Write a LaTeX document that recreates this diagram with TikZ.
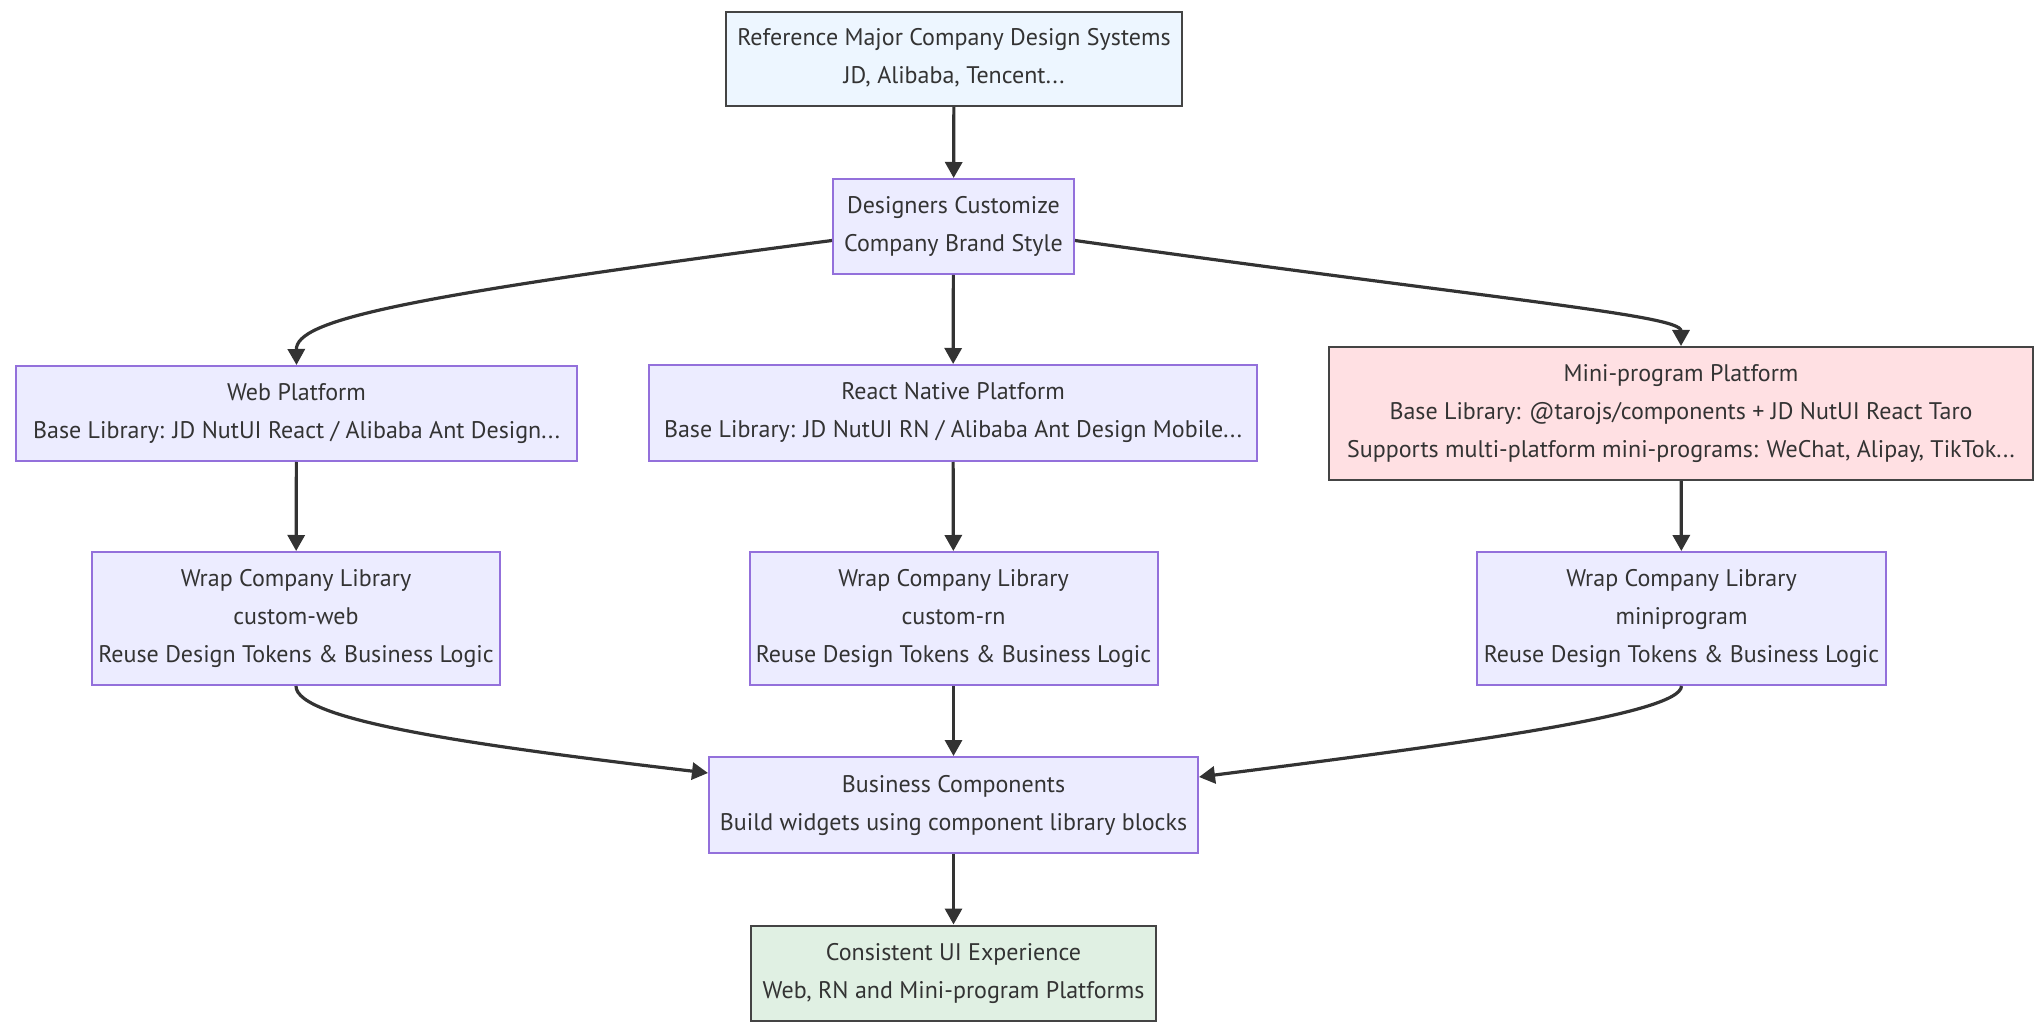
\documentclass[tikz,border=0pt]{standalone}
\usepackage{fontspec}
\setmainfont{PT Sans}
\usetikzlibrary{arrows.meta,calc}
\definecolor{txt}{HTML}{333333}
\definecolor{purp}{HTML}{9370DB}
\definecolor{lav}{HTML}{ECECFF}
\definecolor{topfill}{HTML}{EDF6FF}
\definecolor{pinkfill}{HTML}{FFE0E3}
\definecolor{greenfill}{HTML}{E0F0E3}
\definecolor{darkstroke}{HTML}{444444}
\begin{document}
\begin{tikzpicture}[x=0.5pt,y=-0.5pt,
  box/.style={draw=purp, fill=lav, line width=1pt, align=center, inner sep=0pt,
    text=txt, font=\fontsize{12pt}{19pt}\selectfont},
  two/.style={text height=30pt, text depth=5pt},
  three/.style={text height=49pt, text depth=5pt},
  topbox/.style={box, draw=darkstroke, fill=topfill},
  pinkbox/.style={box, draw=darkstroke, fill=pinkfill},
  greenbox/.style={box, draw=darkstroke, fill=greenfill},
  conn/.style={draw=txt, line width=1.6pt, -{Triangle[length=8pt,width=8.5pt]}}]
\useasboundingbox (0,0) rectangle (2043,1031);
\fill[white] (0,0) rectangle (2043,1031);

\node[topbox, two, minimum width=228pt, minimum height=47pt] (top) at (954,59)
  {Reference Major Company Design Systems\\JD, Alibaba, Tencent...};
\node[box, two, minimum width=120.5pt, minimum height=47.5pt] (des) at (953.5,226.5)
  {Designers Customize\\Company Brand Style};
\node[box, two, minimum width=280.5pt, minimum height=47.5pt] (web) at (296.5,413.5)
  {Web Platform\\Base Library: JD NutUI React / Alibaba Ant Design...};
\node[box, two, minimum width=304pt, minimum height=48pt] (rn) at (953,413)
  {React Native Platform\\Base Library: JD NutUI RN / Alibaba Ant Design Mobile...};
\node[pinkbox, three, minimum width=352pt, minimum height=66.5pt] (mini) at (1681,413.5)
  {Mini-program Platform\\Base Library: @tarojs/components + JD NutUI React Taro\\Supports multi-platform mini-programs: WeChat, Alipay, TikTok...};
\node[box, three, minimum width=204pt, minimum height=66.5pt] (ww) at (296,618.5)
  {Wrap Company Library\\custom-web\\Reuse Design Tokens \& Business Logic};
\node[box, three, minimum width=204pt, minimum height=66.5pt] (wr) at (953.5,618.5)
  {Wrap Company Library\\custom-rn\\Reuse Design Tokens \& Business Logic};
\node[box, three, minimum width=204.5pt, minimum height=66.5pt] (wm) at (1681.5,618.5)
  {Wrap Company Library\\miniprogram\\Reuse Design Tokens \& Business Logic};
\node[box, two, minimum width=244.5pt, minimum height=48pt] (bus) at (953.5,805)
  {Business Components\\Build widgets using component library blocks};
\node[greenbox, two, minimum width=202.5pt, minimum height=47.5pt] (con) at (953.5,973)
  {Consistent UI Experience\\Web, RN and Mini-program Platforms};

\draw[conn] (top) -- (des);
\draw[conn] ([yshift=-7pt]des.west) .. controls (400,297) and (296,320) .. (web.north);
\draw[conn] (des) -- (rn);
\draw[conn] ([yshift=-7pt]des.east) .. controls (1500,300) and (1681,315) .. (mini.north);
\draw[conn] (web) -- (ww);
\draw[conn] (rn) -- (wr);
\draw[conn] (mini) -- (wm);
\draw[conn] (ww.south) .. controls (296,720) and (470,745) .. ([yshift=16pt]bus.west);
\draw[conn] (wr) -- (bus);
\draw[conn] (wm.south) .. controls (1681,715) and (1450,745) .. ([yshift=14pt]bus.east);
\draw[conn] (bus) -- (con);
\end{tikzpicture}
\end{document}
